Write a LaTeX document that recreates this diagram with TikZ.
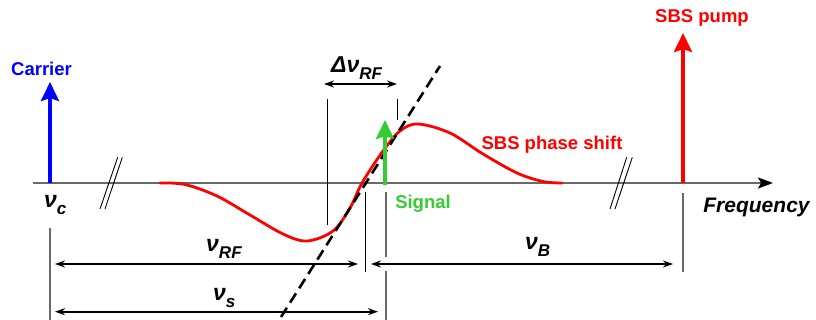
\documentclass[tikz,border=0pt]{standalone}
\usepackage{fontspec}
\setmainfont{Liberation Sans}
\usetikzlibrary{arrows.meta}
\definecolor{sigGreen}{RGB}{51,204,51}
\definecolor{axGray}{RGB}{105,105,105}
\newcommand\subsc[1]{\raisebox{-7pt}{\fontsize{17}{17}\selectfont\bfseries\itshape #1}}
\begin{document}
\begin{tikzpicture}[x=1pt,y=-1pt,
  lbl/.style={font=\fontsize{18.5}{18.5}\selectfont\bfseries, inner sep=0pt, anchor=base},
  sym/.style={font=\fontsize{23}{23}\selectfont\bfseries\itshape, inner sep=0pt, anchor=base west},
  bigarrow/.style={line width=4.5pt, -{Stealth[length=19pt,width=18pt,inset=3pt]}},
  dimarrow/.style={line width=1.6pt, {Stealth[length=10pt,width=7pt]}-{Stealth[length=10pt,width=7pt]}},
  thintick/.style={line width=0.9pt, black},
  graytick/.style={line width=1.3pt, axGray},
  breakmark/.style={line width=0.9pt, black},
]
\useasboundingbox (0,0) rectangle (816,320);

% axis
\coordinate (ax0) at (33,183);
\coordinate (ax1) at (773,183);
\draw[line width=1.4pt, axGray, -{Stealth[length=15pt,width=11pt,inset=3pt,color=black]}] (ax0) -- (ax1);

% break marks
\draw[breakmark] (100,209) -- (117.7,157.3);
\draw[breakmark] (105,209) -- (122.3,157.3);
\draw[breakmark] (610,209) -- (626.7,157.3);
\draw[breakmark] (615,209) -- (632.3,157.3);

% reference ticks
\draw[graytick] (50,228) -- (50,320);
\draw[graytick] (683,193) -- (683,272);
\draw[thintick] (365,192) -- (365,272);
\draw[graytick] (386,192) -- (386,257);
\draw[graytick] (386,271) -- (386,320);
\draw[thintick] (327,99) -- (327,225);
\draw[thintick] (397,99) -- (397,120);

% SBS phase shift curve
\draw[red, line width=2.8pt, line cap=round] plot[smooth, tension=0.55] coordinates {
  (160,183) (185,184.5) (217,196) (250,215) (283,234) (307,241) (333,231)
  (350,208) (362,183) (383,151) (400,131) (418,124) (450,133) (483,154)
  (517,173) (543,181.5) (562,183)};

% tangent dashed line
\coordinate (t0) at (281,317);
\coordinate (t1) at (440,66);
\draw[black, line width=2.6pt, dash pattern=on 11pt off 6pt] (t0) -- (t1);

% carrier
\node[lbl, blue] (carrier) at (41.5,76) {Carrier};
\coordinate (c0) at (50,183);
\coordinate (c1) at (50,82);
\draw[bigarrow, blue] (c0) -- (c1);

% pump
\node[lbl, red] (pump) at (702,22.5) {SBS pump};
\coordinate (p0) at (683,183);
\coordinate (p1) at (683,33);
\draw[bigarrow, red] (p0) -- (p1);

% signal
\coordinate (s0) at (385,185);
\coordinate (s1) at (385,120);
\draw[bigarrow, sigGreen] (s0) -- (s1);
\node[lbl, sigGreen] (signal) at (423,208.3) {Signal};

% labels
\node[lbl, red] (phase) at (552,150) {SBS phase shift};
\node[font=\fontsize{21}{21}\selectfont\bfseries\itshape, inner sep=0pt, anchor=base] (freq) at (756.5,212.7) {Frequency};

\node[sym] (nuc) at (44,208) {ν\subsc{c}};
\node[sym] (dnu) at (331,73) {Δν\subsc{RF}};
\node[sym] (nurf) at (206,251.5) {ν\subsc{RF}};
\node[sym] (nub) at (525,250) {ν\subsc{B}};
\node[sym] (nus) at (213,300) {ν\subsc{s}};

% dimension arrows
\coordinate (d0) at (324,84);
\coordinate (d1) at (397,84);
\draw[dimarrow] (d0) -- (d1);
\coordinate (rf0) at (55,264);
\coordinate (rf1) at (358,264);
\draw[dimarrow] (rf0) -- (rf1);
\coordinate (b0) at (371,264);
\coordinate (b1) at (673,264);
\draw[dimarrow] (b0) -- (b1);
\coordinate (vs0) at (55,311.7);
\coordinate (vs1) at (378,311.7);
\draw[dimarrow] (vs0) -- (vs1);
\end{tikzpicture}
\end{document}
